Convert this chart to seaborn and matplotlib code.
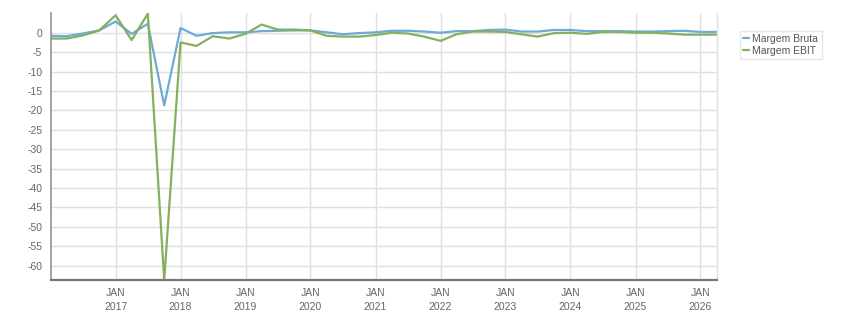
import matplotlib
matplotlib.use("Agg")
import matplotlib.pyplot as plt
import seaborn as sns
import pandas as pd
import numpy as np
from matplotlib.lines import Line2D

quarters = pd.date_range("2016-01-01", periods=42, freq="QS")

margem_bruta = [
    -0.8, -0.9, -0.2, 0.6,
    2.9, -0.3, 2.3, -18.7,
    1.2, -0.8, -0.1, 0.1,
    0.1, 0.4, 0.5, 0.6,
    0.6, 0.1, -0.4, -0.1,
    0.1, 0.5, 0.5, 0.3,
    0.0, 0.4, 0.4, 0.7,
    0.8, 0.3, 0.3, 0.7,
    0.7, 0.4, 0.4, 0.4,
    0.3, 0.3, 0.4, 0.5,
    0.2, 0.2,
]
margem_ebit = [
    -1.5, -1.5, -0.7, 0.6,
    4.5, -1.9, 4.9, -63.7,
    -2.5, -3.4, -0.9, -1.5,
    -0.3, 2.1, 0.8, 0.8,
    0.6, -0.8, -1.0, -1.0,
    -0.6, 0.0, -0.2, -1.0,
    -2.1, -0.4, 0.3, 0.3,
    0.2, -0.4, -1.0, -0.1,
    0.0, -0.3, 0.2, 0.2,
    0.0, 0.0, -0.2, -0.5,
    -0.5, -0.5,
]
series_names = ["Margem Bruta", "Margem EBIT"]
series_colors = ["#6eaad6", "#84b05f"]
year_ticks = list(range(2017, 2027))
y_ticks = list(range(0, -61, -5))

df = pd.DataFrame({
    "date": list(quarters) * 2,
    "value": margem_bruta + margem_ebit,
    "serie": [series_names[0]] * len(quarters) + [series_names[1]] * len(quarters),
})

sns.set_style("white")
plt.rcParams["font.family"] = ["Liberation Sans", "DejaVu Sans"]

fig = plt.figure(figsize=(8.51, 3.13), dpi=100)
ax = fig.add_axes([50.5 / 851, 1 - 280 / 313, (716.5 - 50.5) / 851, (280 - 13.3) / 313])

sns.lineplot(data=df, x="date", y="value", hue="serie",
             palette=dict(zip(series_names, series_colors)),
             linewidth=1.6, ax=ax, legend=False)

ax.set_xlim(pd.Timestamp("2016-01-01"), pd.Timestamp("2026-04-01"))
ax.set_ylim(-63.7, 5)
ax.set_xticks([pd.Timestamp(f"{y}-01-01") for y in year_ticks])
ax.set_xticklabels([f"JAN\n{y}" for y in year_ticks], linespacing=1.45)
ax.set_yticks(y_ticks)
ax.set_yticklabels([str(v) for v in y_ticks])
ax.set_xlabel("")
ax.set_ylabel("")

ax.grid(True, color="#e0e0e0", linewidth=1)
ax.set_axisbelow(True)
ax.spines["top"].set_visible(False)
ax.spines["right"].set_color("#e0e0e0")
ax.spines["right"].set_linewidth(1)
ax.spines["left"].set_color("#8a8a8a")
ax.spines["left"].set_linewidth(1.1)
ax.spines["bottom"].set_color("#777777")
ax.spines["bottom"].set_linewidth(1.6)

ax.tick_params(axis="both", colors="#8a8a8a", labelcolor="#666666", labelsize=7.5,
               length=3.5, width=1)
ax.tick_params(axis="x", pad=2.5)
ax.tick_params(axis="y", pad=2.5)

handles = [Line2D([0], [0], color=c, linewidth=1.6) for c in series_colors]
leg = fig.legend(handles, series_names, loc="upper left",
                 bbox_to_anchor=(740 / 851, 1 - 31 / 313),
                 frameon=True, fancybox=False, fontsize=7.5,
                 handlelength=0.6, handletextpad=0.3, borderpad=0.3,
                 labelspacing=0.15, borderaxespad=0)
leg.get_frame().set_edgecolor("#e0e0e0")
leg.get_frame().set_linewidth(1)
for t in leg.get_texts():
    t.set_color("#555555")

fig.savefig("out.png", dpi=100)
